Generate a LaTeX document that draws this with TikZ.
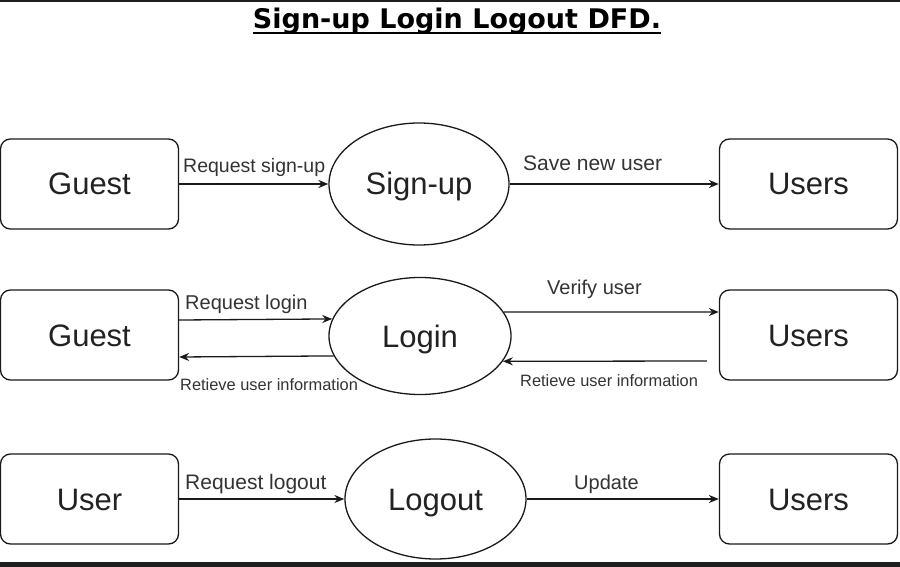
\documentclass[tikz,border=0pt]{standalone}
\usepackage{fontspec}
\setmainfont{Liberation Sans}
\newfontfamily\titlefont{DejaVu Sans}
\usetikzlibrary{shapes.geometric,arrows.meta}
\definecolor{linec}{HTML}{1A1A1A}
\definecolor{textc}{HTML}{222222}
\definecolor{labelc}{HTML}{333333}
\definecolor{bandc}{HTML}{1E1E1E}
\begin{document}
\begin{tikzpicture}[x=1pt,y=-1pt,
  box/.style={draw=linec, line width=1.3pt, rounded corners=10pt,
    minimum width=178pt, minimum height=90pt, inner sep=0pt,
    font=\fontsize{31}{36}\selectfont, text=textc,
    text height=22pt, text depth=0pt},
  proc/.style={ellipse, draw=linec, line width=1.3pt, inner sep=0pt,
    font=\fontsize{31}{36}\selectfont, text=textc,
    text height=22pt, text depth=0pt},
  flow/.style={draw=linec, line width=1.3pt, -{Stealth[length=10pt,width=8pt]}},
  lbl/.style={font=\fontsize{20}{24}\selectfont, text=labelc, inner sep=0pt, anchor=base west},
  small/.style={lbl, font=\fontsize{16.4}{19}\selectfont}
]
\useasboundingbox (0,0) rectangle (900,567);
\fill[white] (0,0) rectangle (900,567);
% screenshot edges
\fill[bandc] (0,0) rectangle (900,1.8);
\fill[bandc] (0,562) rectangle (900,567);

% title
\node[inner sep=0pt, anchor=base, text=black, font=\titlefont\bfseries\fontsize{27}{32}\selectfont]
  (title) at (457,28.5) {Sign-up Login Logout DFD.};
\draw[black, line width=2pt] ([yshift=-4.5pt]title.base west) -- ([yshift=-4.5pt]title.base east);

% row 1
\node[box] (g1) at (89.5,184) {Guest};
\node[proc, minimum width=180pt, minimum height=122pt] (s1) at (419,184) {Sign-up};
\node[box] (u1) at (808.5,184) {Users};
\draw[flow] (g1) -- (s1);
\draw[flow] (s1) -- (u1);
\node[lbl, font=\fontsize{19.5}{24}\selectfont] (l1) at (183,173) {Request sign-up};
\node[lbl, font=\fontsize{21}{24}\selectfont] (l2) at (523,171) {Save new user};

% row 2
\node[box] (g2) at (89.5,335) {Guest};
\node[proc, minimum width=182pt, minimum height=117pt] (lg) at (420,336) {Login};
\node[box] (u2) at (808.5,335) {Users};
\coordinate (ret) at ([xshift=-12pt,yshift=-26pt]u2.west);
\draw[flow] ([yshift=15pt]g2.east) -- (lg.169.6);
\draw[flow] (lg.193.9) -- ([yshift=-22pt]g2.east);
\draw[flow] (lg.16.1) -- ([yshift=23pt]u2.west);
\draw[flow] (ret) -- (lg.343);
\node[lbl] (l3) at (185,309) {Request login};
\node[small] (l4) at (180,390) {Retieve user information};
\node[lbl] (l5) at (547,294) {Verify user};
\node[small] (l6) at (520,386) {Retieve user information};

% row 3
\node[box] (g3) at (89.5,499) {User};
\node[proc, minimum width=181pt, minimum height=120pt] (lo) at (435.5,499) {Logout};
\node[box] (u3) at (808.5,499) {Users};
\draw[flow] (g3) -- (lo);
\draw[flow] (lo) -- (u3);
\node[lbl, font=\fontsize{21}{24}\selectfont] (l7) at (185,489) {Request logout};
\node[lbl] (l8) at (574,489) {Update};
\end{tikzpicture}
\end{document}
